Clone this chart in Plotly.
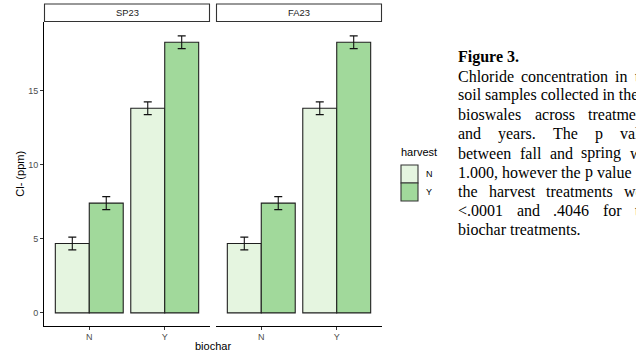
import plotly.graph_objects as go

# ---------------- data ----------------
biochar = ["N", "Y"]
seasons = ["SP23", "FA23"]
harvest_levels = ["N", "Y"]
# mean chloride (ppm) per biochar level, for each season and harvest level
sp23_harvest_N = [4.69, 13.83]
sp23_harvest_Y = [7.42, 18.29]
fa23_harvest_N = [4.69, 13.83]
fa23_harvest_Y = [7.42, 18.29]
# standard errors
sp23_err_N = [0.43, 0.43]
sp23_err_Y = [0.44, 0.43]
fa23_err_N = [0.43, 0.43]
fa23_err_Y = [0.44, 0.43]
y_ticks = [0, 5, 10, 15]

caption_title = "Figure 3."
caption_lines = [
    ("Chloride concentration in the", True),
    ("soil samples collected in the", False),
    ("bioswales across treatments", True),
    ("and years. The p value", True),
    ("between fall and spring was", True),
    ("1.000, however the p value for", True),
    ("the harvest treatments were", True),
    ("<.0001 and .4046 for the", True),
    ("biochar treatments.", False),
]

# ---------------- styling ----------------
W, H = 636, 355
LIGHT = "#e5f5e0"
DARK = "#a1d99b"
EDGE = "#1f1f1f"
SANS = "Liberation Sans, Arial, sans-serif"
SERIF = "Times New Roman, Liberation Serif, serif"


def px(x):
    return x / W


def py(y):
    return 1 - y / H


panel_x = [(44, 210), (216, 382)]
panel_top, panel_bot = 22, 325.5
strip_top = 4

fig = go.Figure()

series = {
    "SP23": [(sp23_harvest_N, sp23_err_N, LIGHT), (sp23_harvest_Y, sp23_err_Y, DARK)],
    "FA23": [(fa23_harvest_N, fa23_err_N, LIGHT), (fa23_harvest_Y, fa23_err_Y, DARK)],
}

for i, season in enumerate(seasons):
    xa = "x" if i == 0 else "x2"
    ya = "y" if i == 0 else "y2"
    for (vals, errs, col), hv in zip(series[season], harvest_levels):
        fig.add_trace(go.Bar(
            x=biochar, y=vals, name=hv, xaxis=xa, yaxis=ya,
            marker=dict(color=col, line=dict(color=EDGE, width=1.1)),
            error_y=dict(type="data", array=errs, color="#111111", thickness=1.1, width=4),
            offsetgroup=hv, showlegend=False,
        ))

yrange = [-0.85, 19.66]
axis_common = dict(
    showline=True, linecolor="black", linewidth=1.1,
    ticks="outside", ticklen=3, tickcolor="#333333", tickwidth=1.1,
    tickfont=dict(family=SANS, size=9, color="#4d4d4d"),
    showgrid=False, zeroline=False,
)

fig.update_layout(
    width=W, height=H,
    margin=dict(l=0, r=0, t=0, b=0),
    paper_bgcolor="white", plot_bgcolor="white",
    barmode="group", bargap=0.1, bargroupgap=0,
    showlegend=False,
    xaxis=dict(domain=[px(44), px(210)], anchor="y", type="category",
               range=[-0.6, 1.6], **axis_common),
    xaxis2=dict(domain=[px(216), px(382)], anchor="y2", type="category",
                range=[-0.6, 1.6], **axis_common),
    yaxis=dict(domain=[py(panel_bot), py(panel_top)], anchor="x", range=yrange,
               tickvals=y_ticks, **axis_common),
    yaxis2=dict(domain=[py(panel_bot), py(panel_top)], anchor="x2", range=yrange,
                matches="y", showline=False, showticklabels=False, ticks="",
                showgrid=False, zeroline=False),
)

shapes = []
annotations = []

# strips
for (x0, x1), season in zip(panel_x, seasons):
    shapes.append(dict(type="rect", xref="paper", yref="paper",
                       x0=px(x0 + 0.5), x1=px(x1 - 0.5), y0=py(panel_top - 0.5), y1=py(strip_top),
                       line=dict(color="#333333", width=1.1), fillcolor="white", layer="above"))
    annotations.append(dict(text=season, xref="paper", yref="paper",
                            x=px((x0 + x1) / 2), y=py((strip_top + panel_top) / 2),
                            xanchor="center", yanchor="middle", showarrow=False,
                            font=dict(family=SANS, size=9.4, color="#1a1a1a")))

# axis titles
annotations.append(dict(text="Cl- (ppm)", xref="paper", yref="paper",
                        x=px(20), y=py((panel_top + panel_bot) / 2), textangle=-90,
                        xanchor="center", yanchor="middle", showarrow=False,
                        font=dict(family=SANS, size=11, color="black")))
annotations.append(dict(text="biochar", xref="paper", yref="paper",
                        x=px(213), y=py(346), xanchor="center", yanchor="middle",
                        showarrow=False, font=dict(family=SANS, size=11, color="black")))

# legend (drawn manually)
annotations.append(dict(text="harvest", xref="paper", yref="paper",
                        x=px(399), y=py(152), xanchor="left", yanchor="middle",
                        showarrow=False, font=dict(family=SANS, size=11, color="black")))
key_top = 165
key_h = 18
for k, (hv, col) in enumerate(zip(harvest_levels, [LIGHT, DARK])):
    y0 = key_top + k * key_h
    shapes.append(dict(type="rect", xref="paper", yref="paper",
                       x0=px(401), x1=px(418), y0=py(y0 + key_h), y1=py(y0),
                       line=dict(color="#333333", width=1.1), fillcolor=col))
    annotations.append(dict(text=hv, xref="paper", yref="paper",
                            x=px(424), y=py(y0 + key_h / 2), xanchor="left", yanchor="middle",
                            showarrow=False, font=dict(family=SANS, size=9, color="black")))

# caption (justified text using Times metrics)
TNR = {'a': 444, 'b': 500, 'c': 444, 'd': 500, 'e': 444, 'f': 333, 'g': 500, 'h': 500,
       'i': 278, 'j': 278, 'k': 500, 'l': 278, 'm': 778, 'n': 500, 'o': 500, 'p': 500,
       'q': 500, 'r': 333, 's': 389, 't': 278, 'u': 500, 'v': 500, 'w': 722, 'x': 500,
       'y': 500, 'z': 444, 'C': 667, 'T': 611, 'F': 556, '.': 250, ',': 250, '<': 564,
       ' ': 250}
for d in "0123456789":
    TNR[d] = 500

FS = 16
LEFT, RIGHT = 456, 652.6
LINE0, LH = 57, 19.2


def wwidth(word):
    return sum(TNR.get(c, 500) for c in word) * FS / 1000.0


annotations.append(dict(text="<b>" + caption_title + "</b>", xref="paper", yref="paper",
                        x=px(LEFT), y=py(LINE0), xanchor="left", yanchor="middle",
                        showarrow=False, font=dict(family=SERIF, size=FS, color="black")))
for li, (line, justify) in enumerate(caption_lines):
    yc = LINE0 + (li + 1) * LH
    words = line.split(" ")
    if justify and len(words) > 1:
        total = sum(wwidth(w) for w in words)
        gap = (RIGHT - LEFT - total) / (len(words) - 1)
        xcur = LEFT
        for w in words:
            if xcur < W:
                annotations.append(dict(text=w.replace("<", "&lt;"), xref="paper", yref="paper",
                                        x=px(xcur), y=py(yc), xanchor="left", yanchor="middle",
                                        showarrow=False,
                                        font=dict(family=SERIF, size=FS, color="black")))
            xcur += wwidth(w) + gap
    else:
        annotations.append(dict(text=line, xref="paper", yref="paper",
                                x=px(LEFT), y=py(yc), xanchor="left", yanchor="middle",
                                showarrow=False, font=dict(family=SERIF, size=FS, color="black")))

fig.update_layout(shapes=shapes, annotations=annotations)
fig.write_html("out.html",
               config={"displayModeBar": False},
               post_script="document.body.style.margin='0';document.body.style.overflow='hidden';")
